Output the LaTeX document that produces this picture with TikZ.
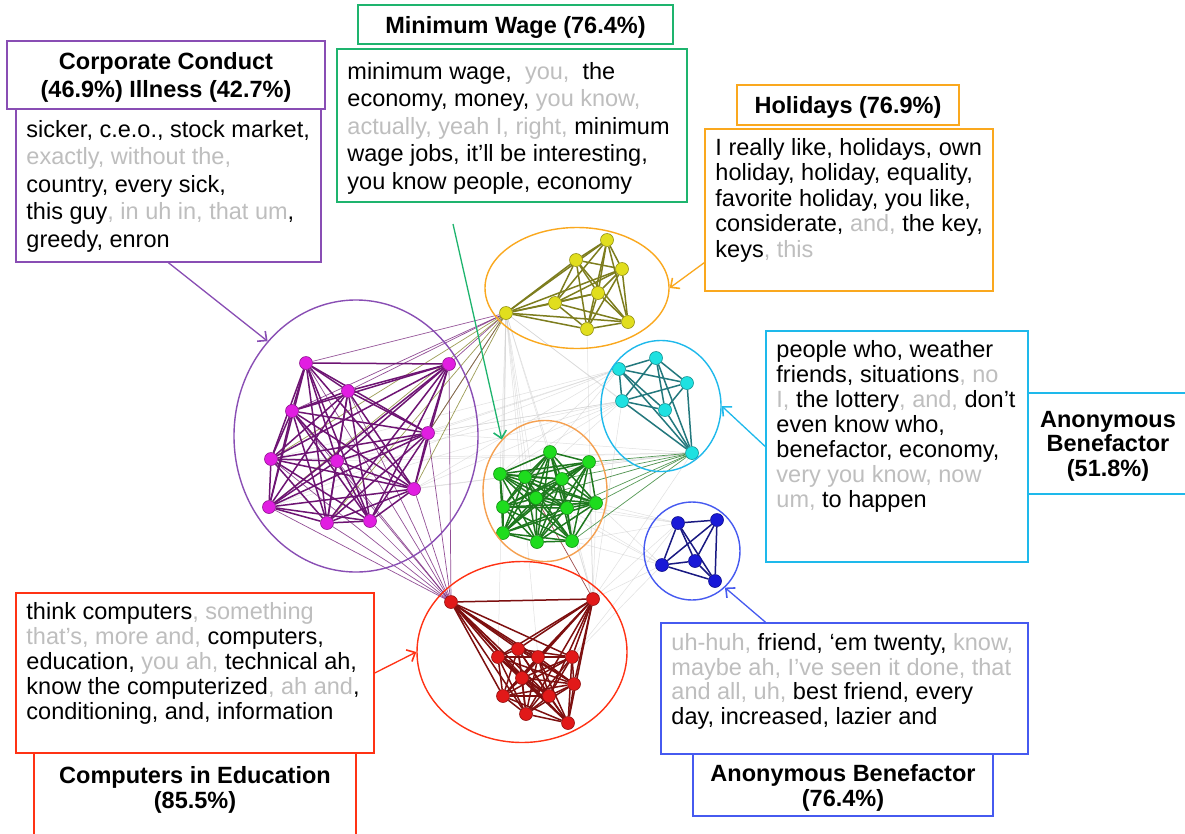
\documentclass[tikz,border=0pt]{standalone}
\usepackage{fontspec}
\setmainfont{Liberation Sans}
\usetikzlibrary{shapes.geometric,arrows.meta,positioning,backgrounds}

% 颜色
\definecolor{condcol}{RGB}{137,78,180}
\definecolor{wagecol}{RGB}{30,180,110}
\definecolor{holcol}{RGB}{250,168,30}
\definecolor{bencol}{RGB}{30,185,235}
\definecolor{compcol}{RGB}{255,50,20}
\definecolor{frcol}{RGB}{70,90,240}
\definecolor{greenring}{RGB}{245,160,80}
\definecolor{fadegray}{RGB}{190,190,190}
\definecolor{condnode}{RGB}{225,30,225}
\definecolor{condedge}{RGB}{110,20,115}
\definecolor{holnode}{RGB}{225,222,30}
\definecolor{holedge}{RGB}{125,125,30}
\definecolor{bennode}{RGB}{30,225,225}
\definecolor{benedge}{RGB}{35,120,125}
\definecolor{frnode}{RGB}{25,25,215}
\definecolor{fredge}{RGB}{25,25,130}
\definecolor{wagenode}{RGB}{30,220,30}
\definecolor{wageedge}{RGB}{30,120,30}
\definecolor{compnode}{RGB}{225,25,25}
\definecolor{compedge}{RGB}{125,15,15}

\newcommand{\faint}[1]{\textcolor{fadegray}{#1}}

\tikzset{
  titlebox/.style={draw, line width=1.5, align=center, inner sep=0, text depth=0pt,
    font=\bfseries\fontsize{23.5}{25}\selectfont},
  wordbox/.style={draw, line width=1.5, inner sep=0},
  words/.style={align=left, inner sep=0, font=\fontsize{23.5}{25.5}\selectfont},
  ring/.style={draw, ellipse, line width=1.4, inner sep=0},
  pointer/.style={line width=1.3, -{Straight Barb[length=7pt,width=13pt,line width=1.6pt]}},
  vert/.style={circle, inner sep=0, minimum size=13, line width=0.6,
    draw=#1!65!black, fill=#1},
  crossline/.style={line width=0.7, opacity=0.75},
  faintline/.style={line width=0.5, gray!40, opacity=0.6},
}

\begin{document}
\begin{tikzpicture}[x=1pt, y=-1pt]
  \useasboundingbox (0,0) rectangle (1185,833);
  % 各簇的点
  \foreach \name/\x/\y in {p1/306/363, p2/449/364, p3/348/391, p4/292/411,
      p5/428/433, p6/271/459, p7/337/461, p8/414/489, p9/269/507,
      p10/327/523, p11/370/521}
    \node[vert=condnode] (\name) at (\x,\y) {};
  \foreach \name/\x/\y in {y1/607/240, y2/576/260, y3/622/269, y4/598/293,
      y5/555/303, y6/506/313, y7/628/322, y8/587/329}
    \node[vert=holnode] (\name) at (\x,\y) {};
  \foreach \name/\x/\y in {c1/656/358, c2/619/369, c3/687/383, c4/622/401,
      c5/665/410, c6/692/453}
    \node[vert=bennode] (\name) at (\x,\y) {};
  \foreach \name/\x/\y in {b1/678/523, b2/717/520, b3/662/565, b4/695/561,
      b5/715/581}
    \node[vert=frnode] (\name) at (\x,\y) {};
  \foreach \name/\x/\y in {g1/550/452, g2/589/462, g3/500/474, g4/525/477,
      g5/562/479, g6/536/498, g7/503/507, g8/567/508, g9/596/503,
      g10/503/533, g11/537/542, g12/572/541}
    \node[vert=wagenode] (\name) at (\x,\y) {};
  \foreach \name/\x/\y in {r1/451/602, r2/593/599, r3/498/657, r4/518/649,
      r5/538/657, r6/572/657, r7/522/678, r8/574/684, r9/503/696,
      r10/549/696, r11/526/714, r12/568/723}
    \node[vert=compnode] (\name) at (\x,\y) {};

  \begin{scope}[on background layer]
    \fill[white] (0,0) rectangle (1185,833);
    % 簇间连线
    \foreach \t in {g1,g3,g4,g6,g7,g10,g11,r2,r5,r3,c6,c4}
      \draw[faintline] (y6) -- (\t);
    \foreach \s in {c2,c4,c6}
      \foreach \t in {p5,p7,p8,p6,p9,g3,g7}
        \draw[faintline] (\s) -- (\t);
    \foreach \s in {b1,b3}
      \foreach \t in {g8,g9,g12,g6,r2,r6}
        \draw[faintline] (\s) -- (\t);
    \foreach \t in {g1,g2,g5,g9,c6,c4,y8}
      \draw[faintline] (r2) -- (\t);
    \foreach \t in {g2,g5,g8,g9,g12,g6}
      \draw[crossline, wageedge] (c6) -- (\t);
    \foreach \i in {1,...,11}
      \draw[crossline, condedge] (p\i) -- (r1);
    \foreach \i in {1,2,3,4,5}
      \draw[crossline, condedge] (p\i) -- (y6);
    \foreach \i in {5,6,8,9,10}
      \draw[crossline, holedge] (y6) -- (p\i);
    \draw[crossline, compedge] (g6) -- (r2);
    % 簇内连线
    \foreach \n/\m/\col in {p/11/condedge, y/8/holedge, c/6/benedge,
        b/5/fredge, g/12/wageedge, r/12/compedge} {
      \pgfmathtruncatemacro\last{\m-1}
      \foreach \i in {1,...,\last} {
        \pgfmathtruncatemacro\nxt{\i+1}
        \foreach \j in {\nxt,...,\m}
          \draw[\col, line width=1.5] (\n\i) -- (\n\j);
      }
    }
  \end{scope}

  % 圈
  \node[ring, draw=condcol, minimum width=244, minimum height=272] (condring) at (356,436) {};
  \node[ring, draw=holcol, minimum width=184, minimum height=121] (holring) at (577,288) {};
  \node[ring, draw=bencol, minimum width=120, minimum height=131] (benring) at (661,406) {};
  \node[ring, draw=frcol, minimum width=96, minimum height=98] (frring) at (692,551) {};
  \node[ring, draw=greenring, minimum width=124, minimum height=141] (wagering) at (545,491) {};
  \node[ring, draw=compcol, minimum width=210, minimum height=181] (compring) at (522,652) {};

  % 标题框
  \node[titlebox, draw=condcol, minimum width=318, minimum height=68,
    font=\bfseries\fontsize{23.5}{28}\selectfont] (condtitle) at (166,75)
    {Corporate Conduct\\(46.9\%) Illness (42.7\%)};
  \node[titlebox, draw=wagecol, minimum width=315, minimum height=39] (wagetitle) at (515.5,24.5)
    {Minimum Wage (76.4\%)};
  \node[titlebox, draw=holcol, minimum width=222, minimum height=40] (holtitle) at (848,105)
    {Holidays (76.9\%)};
  \node[titlebox, draw=bencol, minimum width=160, minimum height=101,
    font=\bfseries\fontsize{23.5}{24.5}\selectfont] (bentitle) at (1108,443.5)
    {Anonymous\\Benefactor\\(51.8\%)};
  \node[titlebox, draw=compcol, minimum width=322, minimum height=92] (comptitle) at (195,799) {};
  \node[titlebox, draw=none] (compname) at (195,787)
    {Computers in Education\\(85.5\%)};
  \node[titlebox, draw=frcol, minimum width=300, minimum height=62] (frtitle) at (843,785)
    {Anonymous Benefactor\\(76.4\%)};

  % 词框
  \node[wordbox, draw=condcol, minimum width=305, minimum height=153] (condbox) at (168.5,185.5) {};
  \node[wordbox, draw=wagecol, minimum width=350, minimum height=153] (wagebox) at (512,125.5) {};
  \node[wordbox, draw=holcol, minimum width=288, minimum height=162] (holbox) at (849,210) {};
  \node[wordbox, draw=bencol, minimum width=262, minimum height=231] (benbox) at (897,446.5) {};
  \node[wordbox, draw=compcol, minimum width=358, minimum height=160] (compbox) at (195,673) {};
  \node[wordbox, draw=frcol, minimum width=367, minimum height=131] (frbox) at (844.5,688.5) {};

  \node[words, font=\fontsize{23.5}{27.5}\selectfont, below right=12pt and 11pt of condbox.north west] (condtext)
    {sicker, c.e.o., stock market,\\
     \faint{exactly, without the,}\\
     country, every sick,\\
     this guy\faint{, in uh in, that um},\\
     greedy, enron};
  \node[words, font=\fontsize{23.5}{27.5}\selectfont, below right=14pt and 11pt of wagebox.north west] (wagetext)
    {minimum wage, \ \faint{you,} \ the\\
     economy, money, \faint{you know,}\\
     \faint{actually, yeah I, right,} minimum\\
     wage jobs, it’ll be interesting,\\
     you know people, economy};
  \node[words, below right=10pt and 11pt of holbox.north west] (holtext)
    {I really like, holidays, own\\
     holiday, holiday, equality,\\
     favorite holiday, you like,\\
     considerate, \faint{and,} the key,\\
     keys\faint{, this}};
  \node[words, font=\fontsize{23.5}{25}\selectfont, below right=10pt and 11pt of benbox.north west] (bentext)
    {people who, weather\\
     friends, situations\faint{, no}\\
     \faint{I,} the lottery\faint{, and,} don’t\\
     even know who,\\
     benefactor, economy,\\
     \faint{very you know, now}\\
     \faint{um,} to happen};
  \node[words, font=\fontsize{23.5}{25}\selectfont, below right=10pt and 11pt of compbox.north west] (comptext)
    {think computers\faint{, something}\\
     \faint{that’s, more and,} computers,\\
     education, \faint{you ah,} technical ah,\\
     know the computerized\faint{, ah and},\\
     conditioning, and, information};
  \node[words, font=\fontsize{23.5}{24.7}\selectfont, below right=11pt and 11pt of frbox.north west] (frtext)
    {\faint{uh-huh,} friend, ‘em twenty, \faint{know,}\\
     \faint{maybe ah, I’ve seen it done, that}\\
     \faint{and all, uh,} best friend, every\\
     day, increased, lazier and};

  % 箭头
  \coordinate (wagetail) at (453,224);
  \draw[pointer, condcol] (condbox.south) -- (condring.133);
  \draw[pointer, wagecol] (wagetail) -- (wagering.130);
  \draw[pointer, holcol] (holbox.200) -- (holring.east);
  \draw[pointer, bencol] (benbox.west) -- (benring.east);
  \draw[pointer, frcol] (frbox.140) -- (frring.312);
  \draw[pointer, compcol] (compbox.east) -- (compring.west);
\end{tikzpicture}
\end{document}
